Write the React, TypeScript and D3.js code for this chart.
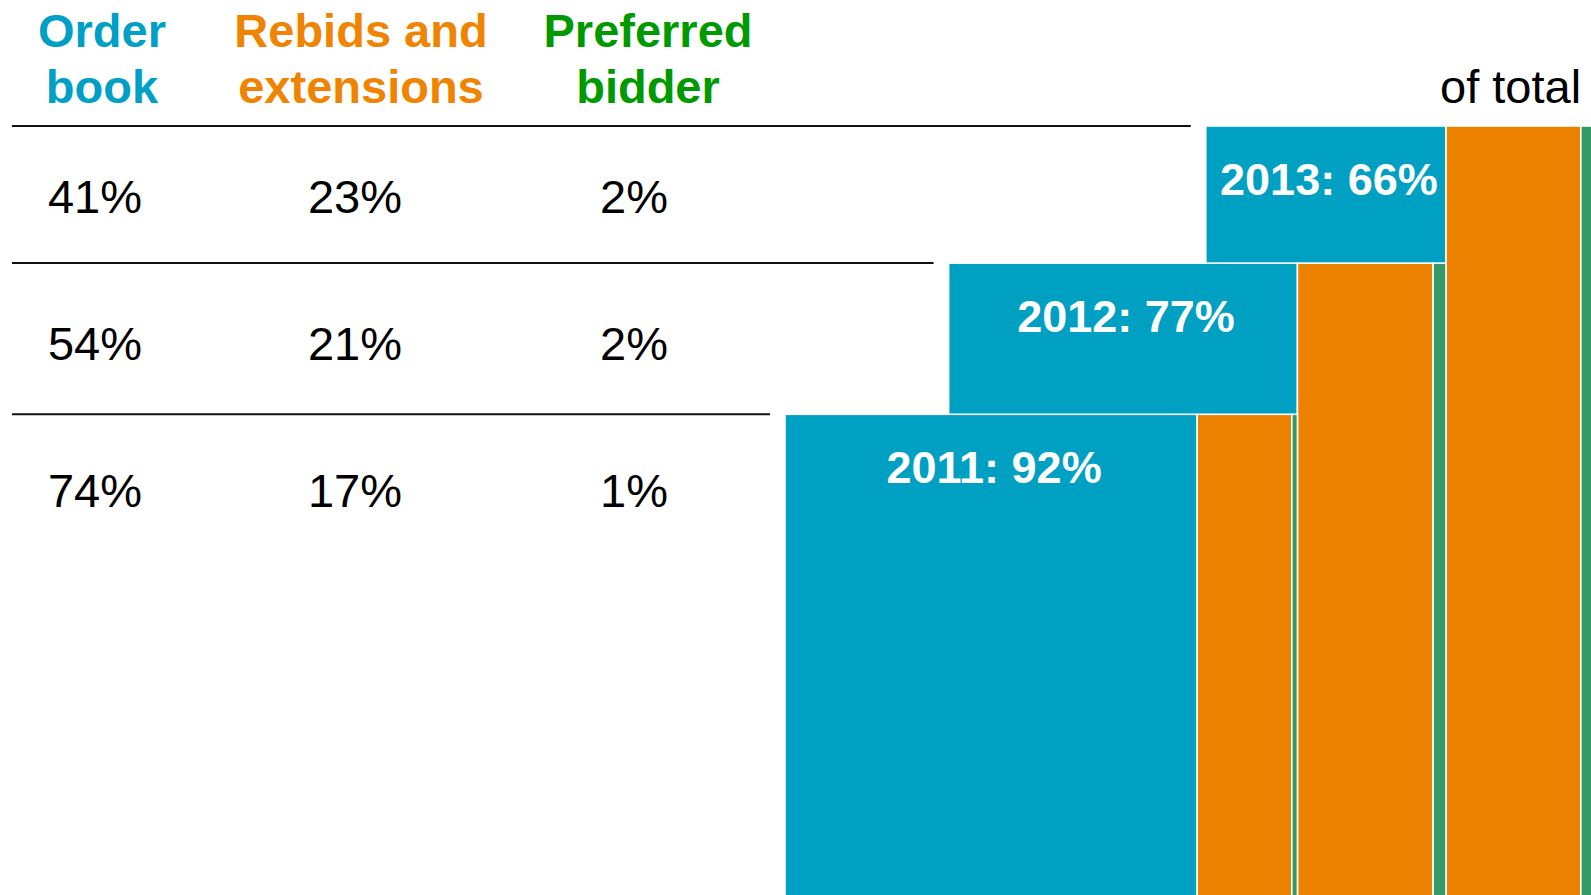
import React from "react";
import * as d3 from "d3";

// ---------- data ----------
const years = ["2013", "2012", "2011"]; // top to bottom
const orderBook = [41, 54, 74];
const rebidsExtensions = [23, 21, 17];
const preferredBidder = [2, 2, 1];
// relative size of each year's whole pipeline
const yearSize = [58.6, 64.6, 55.7];
const seriesNames = [
  ["Order", "book"],
  ["Rebids and", "extensions"],
  ["Preferred", "bidder"],
];
const cornerLabel = "of total";

// ---------- styles / layout ----------
const W = 1591;
const H = 895;
const FONT = "'Liberation Sans', Arial, Helvetica, sans-serif";
const barColors = ["#00A0C3", "#EC8100", "#349966"];
const headerColors = ["#00A0C6", "#F08300", "#009A00"];
const headerX = [102, 361, 648];
const valueX = [95, 355, 634];
const firstBarLeft = 785; // left edge of the bottom (2011) bar
const firstRowTop = 126;
const lineLeft = 12;
const lineGap = 15;

export default function App() {
  const series = [orderBook, rebidsExtensions, preferredBidder];
  const w = d3.scaleLinear().domain([0, 100]).range([0, 1000]);
  const h = d3.scaleLinear().domain([0, 100]).range([0, 234]);
  const yText = d3.scalePoint<string>().domain(years).range([213.3, 506.7]);

  // row tops: each row's height proportional to that year's size
  const tops: number[] = [];
  years.forEach((_, i) => {
    tops.push(i === 0 ? firstRowTop : tops[i - 1] + h(yearSize[i - 1]));
  });

  // segments in value units per year
  const segs = years.map((_, i) =>
    series.map((s) => (s[i] / 100) * yearSize[i])
  );
  const totals = years.map((_, i) => d3.sum(series, (s) => s[i]));

  // chained layout: bottom year anchored; each upper year's order-book ends where the year below ends
  const starts: number[] = new Array(years.length);
  let prevEnd = 0;
  for (let i = years.length - 1; i >= 0; i--) {
    const total = d3.sum(segs[i]);
    const start = i === years.length - 1 ? firstBarLeft : prevEnd - w(segs[i][0]);
    starts[i] = start;
    prevEnd = start + w(total);
  }

  return (
    <svg
      width={W}
      height={H}
      style={{ position: "absolute", left: 0, top: 0, overflow: "hidden", background: "#fff" }}
      fontFamily={FONT}
    >
      {/* headers */}
      {seriesNames.map((lines, j) => (
        <text
          key={"h" + j}
          x={headerX[j]}
          y={46.5}
          textAnchor="middle"
          fontSize={47}
          fontWeight="bold"
          fill={headerColors[j]}
        >
          {lines.map((l, k) => (
            <tspan key={k} x={headerX[j]} dy={k === 0 ? 0 : 56}>
              {l}
            </tspan>
          ))}
        </text>
      ))}
      <text x={1440} y={103.3} fontSize={47} fill="#000">
        {cornerLabel}
      </text>

      {/* bars: back (top year) to front (bottom year) */}
      {years.map((yr, i) => {
        let cursor = starts[i];
        const top = tops[i];
        return (
          <g key={"bar" + yr}>
            {segs[i].map((v, j) => {
              const x0 = cursor;
              cursor += w(v);
              return (
                <rect
                  key={j}
                  x={x0}
                  y={top}
                  width={w(v)}
                  height={H - top + 10}
                  fill={barColors[j]}
                  stroke="#fff"
                  strokeWidth={1.6}
                />
              );
            })}
            <text
              x={starts[i] + w(segs[i][0]) / 2 + 3}
              y={top + 68.5}
              textAnchor="middle"
              fontSize={45}
              fontWeight="bold"
              fill="#fff"
            >
              {`${yr}: ${totals[i]}%`}
            </text>
          </g>
        );
      })}

      {/* row separators and values */}
      {years.map((yr, i) => (
        <g key={"row" + yr}>
          <line
            x1={lineLeft}
            x2={starts[i] - lineGap}
            y1={tops[i]}
            y2={tops[i]}
            stroke="#111"
            strokeWidth={2}
          />
          {series.map((s, j) => (
            <text
              key={j}
              x={valueX[j]}
              y={yText(yr)!}
              textAnchor="middle"
              fontSize={47}
              fill="#000"
            >
              {`${s[i]}%`}
            </text>
          ))}
        </g>
      ))}
    </svg>
  );
}
